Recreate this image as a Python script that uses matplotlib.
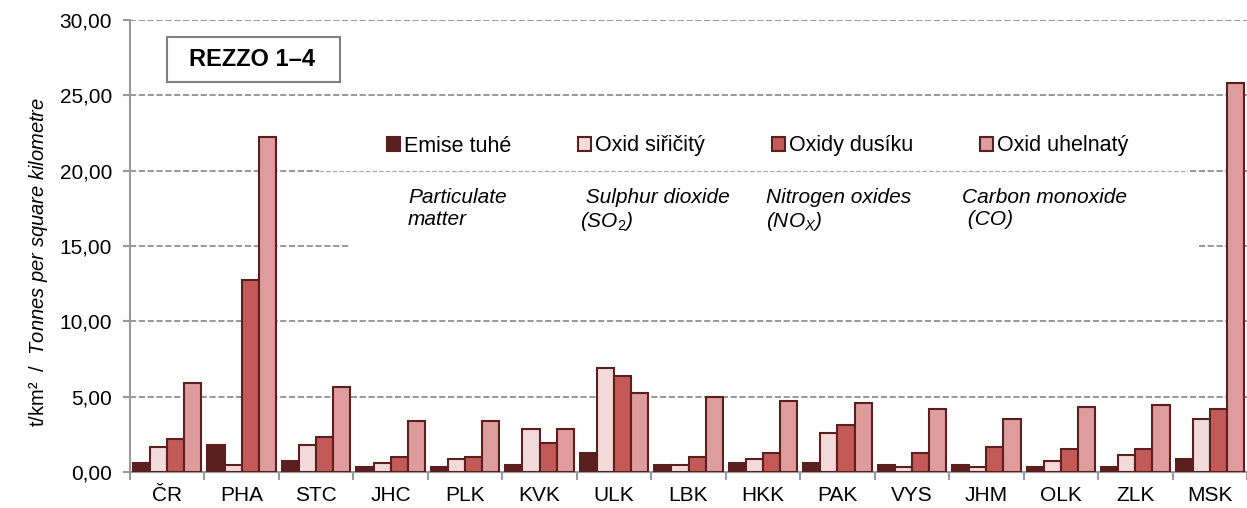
import numpy as np
import matplotlib.pyplot as plt
from matplotlib.patches import Rectangle

plt.rcParams.update({
    "font.family": "Liberation Sans",
    "mathtext.fontset": "custom",
    "mathtext.rm": "Liberation Sans",
    "mathtext.it": "Liberation Sans:italic",
    "mathtext.bf": "Liberation Sans:bold",
})

# Data (t/km2)
regions = ["ČR", "PHA", "STC", "JHC", "PLK", "KVK", "ULK", "LBK",
           "HKK", "PAK", "VYS", "JHM", "OLK", "ZLK", "MSK"]
emise_tuhe = [0.62, 1.81, 0.75, 0.35, 0.35, 0.49, 1.28, 0.49, 0.62, 0.62, 0.49, 0.49, 0.35, 0.35, 0.88]
oxid_siricity = [1.68, 0.49, 1.81, 0.62, 0.88, 2.83, 6.92, 0.44, 0.86, 2.57, 0.35, 0.30, 0.71, 1.13, 3.50]
oxidy_dusiku = [2.21, 12.74, 2.34, 1.02, 1.02, 1.90, 6.39, 1.02, 1.26, 3.10, 1.24, 1.66, 1.53, 1.53, 4.18]
oxid_uhelnaty = [5.88, 22.25, 5.62, 3.36, 3.36, 2.83, 5.22, 4.96, 4.69, 4.56, 4.18, 3.52, 4.29, 4.42, 25.8]

series = [emise_tuhe, oxid_siricity, oxidy_dusiku, oxid_uhelnaty]
labels = ["Emise tuhé", "Oxid siřičitý", "Oxidy dusíku", "Oxid uhelnatý"]
colors = ["#5c1f1f", "#f2dada", "#c45a58", "#de9c9c"]
edge = "#5c1f1f"

yticks = [0, 5, 10, 15, 20, 25, 30]
ytick_labels = ["0,00", "5,00", "10,00", "15,00", "20,00", "25,00", "30,00"]

fig = plt.figure(figsize=(12.47, 5.08), dpi=100)
ax = fig.add_axes([130 / 1247, 1 - 472 / 508, 1 - 130 / 1247, 452 / 508])

x = np.arange(len(regions))
w = 0.23
for i, (vals, lab, c) in enumerate(zip(series, labels, colors)):
    ax.bar(x + (i - 1.5) * w, vals, w, color=c, edgecolor=edge, linewidth=1.5,
           label=lab, zorder=3)

ax.set_xlim(-0.5, 14.43)
ax.set_ylim(0, 30)
ax.set_yticks(yticks)
ax.set_yticklabels(ytick_labels, fontsize=15)
ax.set_xticks(x)
ax.set_xticklabels(regions, fontsize=15)
ax.set_xticks(np.arange(-0.5, 15, 1), minor=True)
ax.tick_params(axis="x", which="major", length=0, pad=10)
ax.tick_params(axis="x", which="minor", length=6, width=1.5, color="#999999")
ax.tick_params(axis="y", length=5, width=1.5, color="#999999", pad=8)

ax.grid(axis="y", linestyle="--", color="#888888", linewidth=1.2, zorder=0.5)
ax.set_axisbelow(True)
for s in ["top", "right"]:
    ax.spines[s].set_visible(False)
for s in ["left", "bottom"]:
    ax.spines[s].set_color("#999999")
    ax.spines[s].set_linewidth(1.5)

# white area behind legend / notes hiding the grid
ax.add_patch(Rectangle((2.04, 19.5), 13.70 - 2.04, 3.5, facecolor="white",
                       edgecolor="none", zorder=1))
ax.add_patch(Rectangle((2.44, 14.5), 13.86 - 2.44, 5.0, facecolor="white",
                       edgecolor="none", zorder=1))
ax.plot([2.04, 13.70], [20, 20], linestyle="--", color="#aaaaaa", linewidth=0.9, zorder=1.5)

ax.legend(loc="center left", bbox_to_anchor=((378 - 130) / 1117, (472 - 146) / 452),
          ncol=4, frameon=False, fontsize=15.5, handlelength=0.6, handleheight=0.6,
          handletextpad=0.2, columnspacing=3.1, borderaxespad=0)

# English notes
notes = [
    (408, "Particulate\nmatter"),
    (580, " Sulphur dioxide\n(SO$_2$)"),
    (766, "Nitrogen oxides\n(NO$_X$)"),
    (962, "Carbon monoxide\n (CO)"),
]
for px, t in notes:
    fig.text(px / 1247, 1 - 188 / 508, t, fontsize=15, style="italic",
             va="top", ha="left", linespacing=1.2)

ax.set_ylabel("t/km²  /  $\\mathit{Tonnes\\ per\\ square\\ kilometre}$", fontsize=14.5)
ax.yaxis.set_label_coords(-0.072, 0.465)

# REZZO box
fig.patches.append(Rectangle((167 / 1247, 1 - 82 / 508), 173 / 1247, 45 / 508,
                             transform=fig.transFigure, facecolor="white",
                             edgecolor="#808080", linewidth=1.5, zorder=4))
fig.text(252 / 1247, 1 - 60 / 508, "REZZO 1–4", fontsize=17, fontweight="bold",
         ha="center", va="center", zorder=5)

fig.savefig("out.png", dpi=100)
